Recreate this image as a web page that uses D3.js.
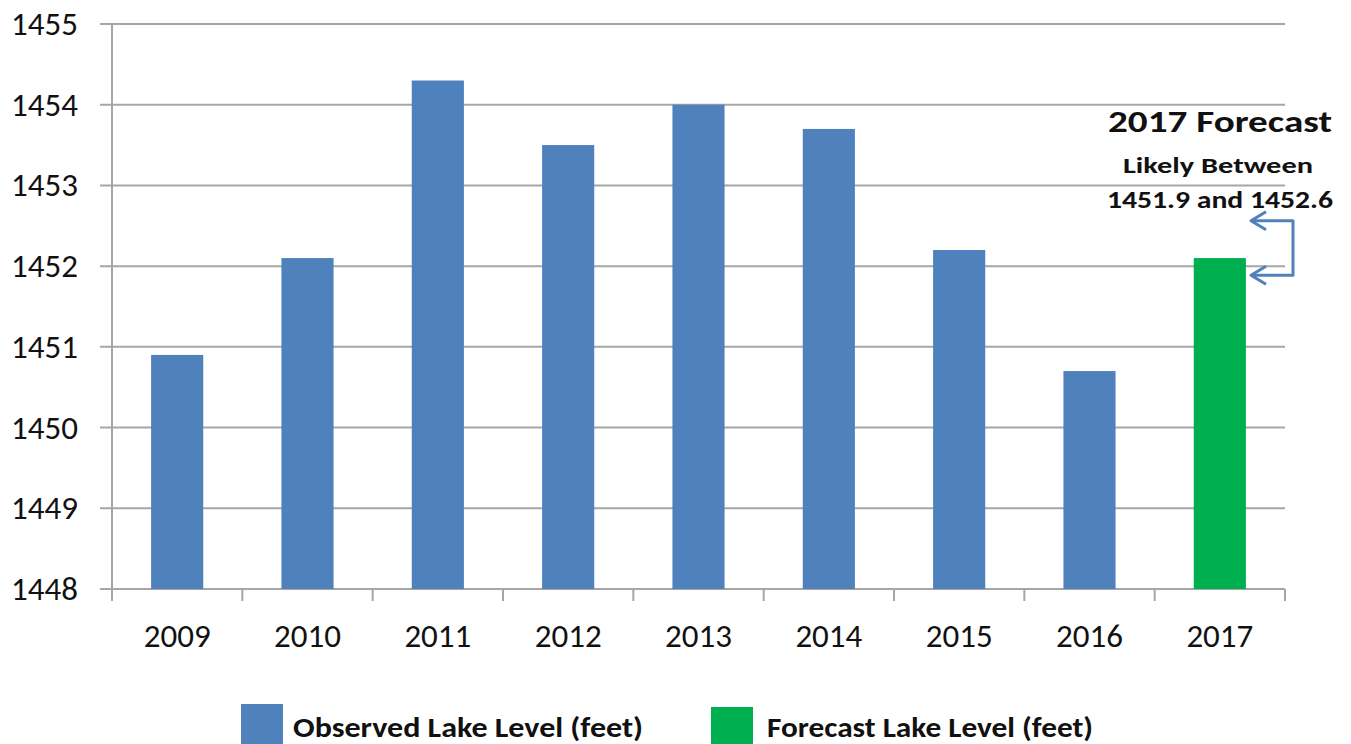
<!DOCTYPE html>
<html>
<head>
<meta charset="utf-8">
<script src="https://cdn.jsdelivr.net/npm/d3@7"></script>
<style>
  body { margin: 0; background: #fff; }
  text { font-family: Carlito, "Liberation Sans", Arial, sans-serif; fill: #111; }
</style>
</head>
<body>
<svg id="chart" width="1351" height="744"></svg>
<script>
// data
var years = ["2009", "2010", "2011", "2012", "2013", "2014", "2015", "2016", "2017"];
var levels = [1450.9, 1452.1, 1454.3, 1453.5, 1454.0, 1453.7, 1452.2, 1450.7, 1452.1];
var kinds = ["obs", "obs", "obs", "obs", "obs", "obs", "obs", "obs", "fc"];
var yTicks = [1448, 1449, 1450, 1451, 1452, 1453, 1454, 1455];
var forecastRange = [1451.9, 1452.6];
var legendLabels = ["Observed Lake Level (feet)", "Forecast Lake Level (feet)"];

var colors = { obs: "#4F81BD", fc: "#00B050" };
var gridColor = "#A6A6A6";

var svg = d3.select("#chart");
var plotL = 112, plotR = 1285, plotT = 24, plotB = 589;

var x = d3.scaleBand().domain(years).range([plotL, plotR])
  .paddingInner(0.6).paddingOuter(0.3);
var y = d3.scaleLinear().domain([1448, 1455]).range([plotB, plotT]);

// gridlines
svg.append("g").selectAll("line").data(yTicks).join("line")
  .attr("x1", 100).attr("x2", plotR)
  .attr("y1", d => y(d)).attr("y2", d => y(d))
  .attr("stroke", gridColor).attr("stroke-width", 2);

// y labels
svg.append("g").selectAll("text").data(yTicks).join("text")
  .attr("x", 78).attr("y", d => y(d) + 11)
  .attr("text-anchor", "end")
  .style("font-size", "33px")
  .text(d => d);

// vertical axis line
svg.append("line")
  .attr("x1", plotL).attr("x2", plotL).attr("y1", plotT).attr("y2", plotB)
  .attr("stroke", gridColor).attr("stroke-width", 2);

// bars
svg.append("g").selectAll("rect").data(years).join("rect")
  .attr("x", d => x(d))
  .attr("width", x.bandwidth())
  .attr("y", (d, i) => y(levels[i]))
  .attr("height", (d, i) => y(1448) - y(levels[i]))
  .attr("fill", (d, i) => colors[kinds[i]]);

// x axis ticks at category boundaries
var gap = (x.step() - x.bandwidth()) / 2;
var bounds = years.map(d => x(d) - gap).concat([plotR]);
svg.append("g").selectAll("line").data(bounds).join("line")
  .attr("x1", d => d).attr("x2", d => d)
  .attr("y1", plotB).attr("y2", plotB + 12)
  .attr("stroke", gridColor).attr("stroke-width", 2);

svg.append("g").selectAll("text").data(years).join("text")
  .attr("x", d => x(d) + x.bandwidth() / 2).attr("y", 647)
  .attr("text-anchor", "middle")
  .style("font-size", "33px")
  .text(d => d);

// forecast annotation
var ann = svg.append("g").style("font-weight", "bold");
ann.append("text").attr("x", 1220).attr("y", 132).attr("text-anchor", "middle")
  .style("font-size", "31px").attr("textLength", 224).attr("lengthAdjust", "spacingAndGlyphs")
  .text("2017 Forecast");
ann.append("text").attr("x", 1218).attr("y", 173).attr("text-anchor", "middle")
  .style("font-size", "23px").attr("textLength", 190).attr("lengthAdjust", "spacingAndGlyphs")
  .text("Likely Between");
ann.append("text").attr("x", 1220).attr("y", 208).attr("text-anchor", "middle")
  .style("font-size", "24px").attr("textLength", 226).attr("lengthAdjust", "spacingAndGlyphs")
  .text(forecastRange[0] + " and " + forecastRange[1]);

// bracket with open arrowheads
var yHi = y(forecastRange[1]) + 3, yLo = y(forecastRange[0]) + 1;
var tipX = 1251, bx = 1293;
var br = svg.append("g").attr("fill", "none").attr("stroke", colors.obs)
  .attr("stroke-width", 3).attr("stroke-linejoin", "round");
br.append("path").attr("d", d3.line()([[tipX, yHi], [bx, yHi], [bx, yLo], [tipX, yLo]]));
[yHi, yLo].forEach(function(v) {
  br.append("path").attr("d", d3.line()([[tipX + 15, v - 9], [tipX, v], [tipX + 15, v + 9]]));
});

// legend
var legX = [241, 711], legTx = [293, 767], legW = [350, 326], legTop = [704, 707];
var leg = svg.append("g").selectAll("g").data(legendLabels).join("g");
leg.append("rect")
  .attr("x", (d, i) => legX[i]).attr("y", (d, i) => legTop[i])
  .attr("width", 42).attr("height", 50)
  .attr("fill", (d, i) => i === 0 ? colors.obs : colors.fc);
leg.append("text")
  .attr("x", (d, i) => legTx[i]).attr("y", 737)
  .style("font-size", "28px").style("font-weight", "bold")
  .attr("textLength", (d, i) => legW[i]).attr("lengthAdjust", "spacingAndGlyphs")
  .text(d => d);
</script>
</body>
</html>
